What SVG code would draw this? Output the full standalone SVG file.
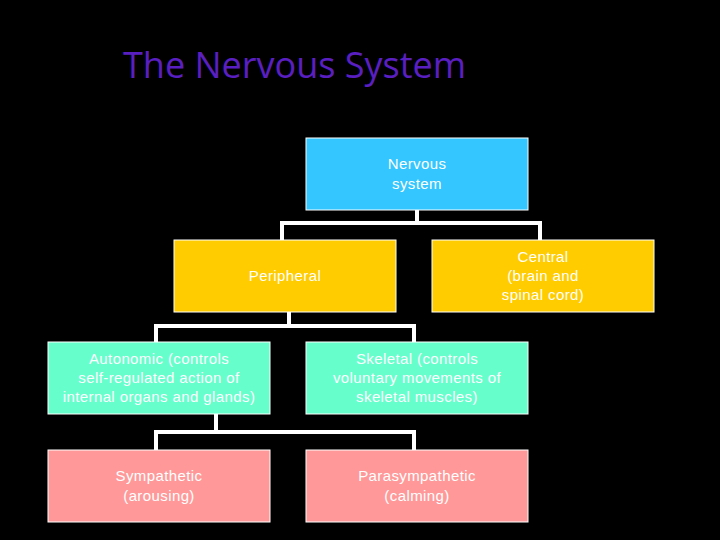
<svg xmlns="http://www.w3.org/2000/svg" width="720" height="540" viewBox="0 0 720 540">
<style>
.b{stroke:#fff;stroke-width:1}
.t{font-family:"Liberation Sans",Arial,sans-serif;font-size:15px;fill:#fff;text-anchor:middle;letter-spacing:0.4px}
.c{fill:none;stroke:#fff;stroke-width:4}
</style>
<rect width="720" height="540" fill="#000"/>
<text x="123" y="78" font-family="Open Sans,Liberation Sans,sans-serif" font-size="36" fill="#5a1fc0">The Nervous System</text>
<g id="connectors">
<path class="c" d="M417 210V223M282 240V223H540V240"/>
<path class="c" d="M289 312V326M156 342V326H414V342"/>
<path class="c" d="M216 414V432M156 450V432H414V450"/>
</g>
<g id="nervous"><rect class="b" x="306" y="138" width="222" height="72" fill="#33c6ff"/><text class="t" x="417" y="169">Nervous</text><text class="t" x="417" y="189">system</text></g>
<g id="peripheral"><rect class="b" x="174" y="240" width="222" height="72" fill="#ffcc00"/><text class="t" x="285" y="281">Peripheral</text></g>
<g id="central"><rect class="b" x="432" y="240" width="222" height="72" fill="#ffcc00"/><text class="t" x="543" y="262">Central</text><text class="t" x="543" y="281">(brain and</text><text class="t" x="543" y="300">spinal cord)</text></g>
<g id="autonomic"><rect class="b" x="48" y="342" width="222" height="72" fill="#66ffcc"/><text class="t" x="159" y="364">Autonomic (controls</text><text class="t" x="159" y="383">self-regulated action of</text><text class="t" x="159" y="402">internal organs and glands)</text></g>
<g id="skeletal"><rect class="b" x="306" y="342" width="222" height="72" fill="#66ffcc"/><text class="t" x="417" y="364">Skeletal (controls</text><text class="t" x="417" y="383">voluntary movements of</text><text class="t" x="417" y="402">skeletal muscles)</text></g>
<g id="sympathetic"><rect class="b" x="48" y="450" width="222" height="72" fill="#ff9999"/><text class="t" x="159" y="481">Sympathetic</text><text class="t" x="159" y="501">(arousing)</text></g>
<g id="parasympathetic"><rect class="b" x="306" y="450" width="222" height="72" fill="#ff9999"/><text class="t" x="417" y="481">Parasympathetic</text><text class="t" x="417" y="501">(calming)</text></g>
</svg>
